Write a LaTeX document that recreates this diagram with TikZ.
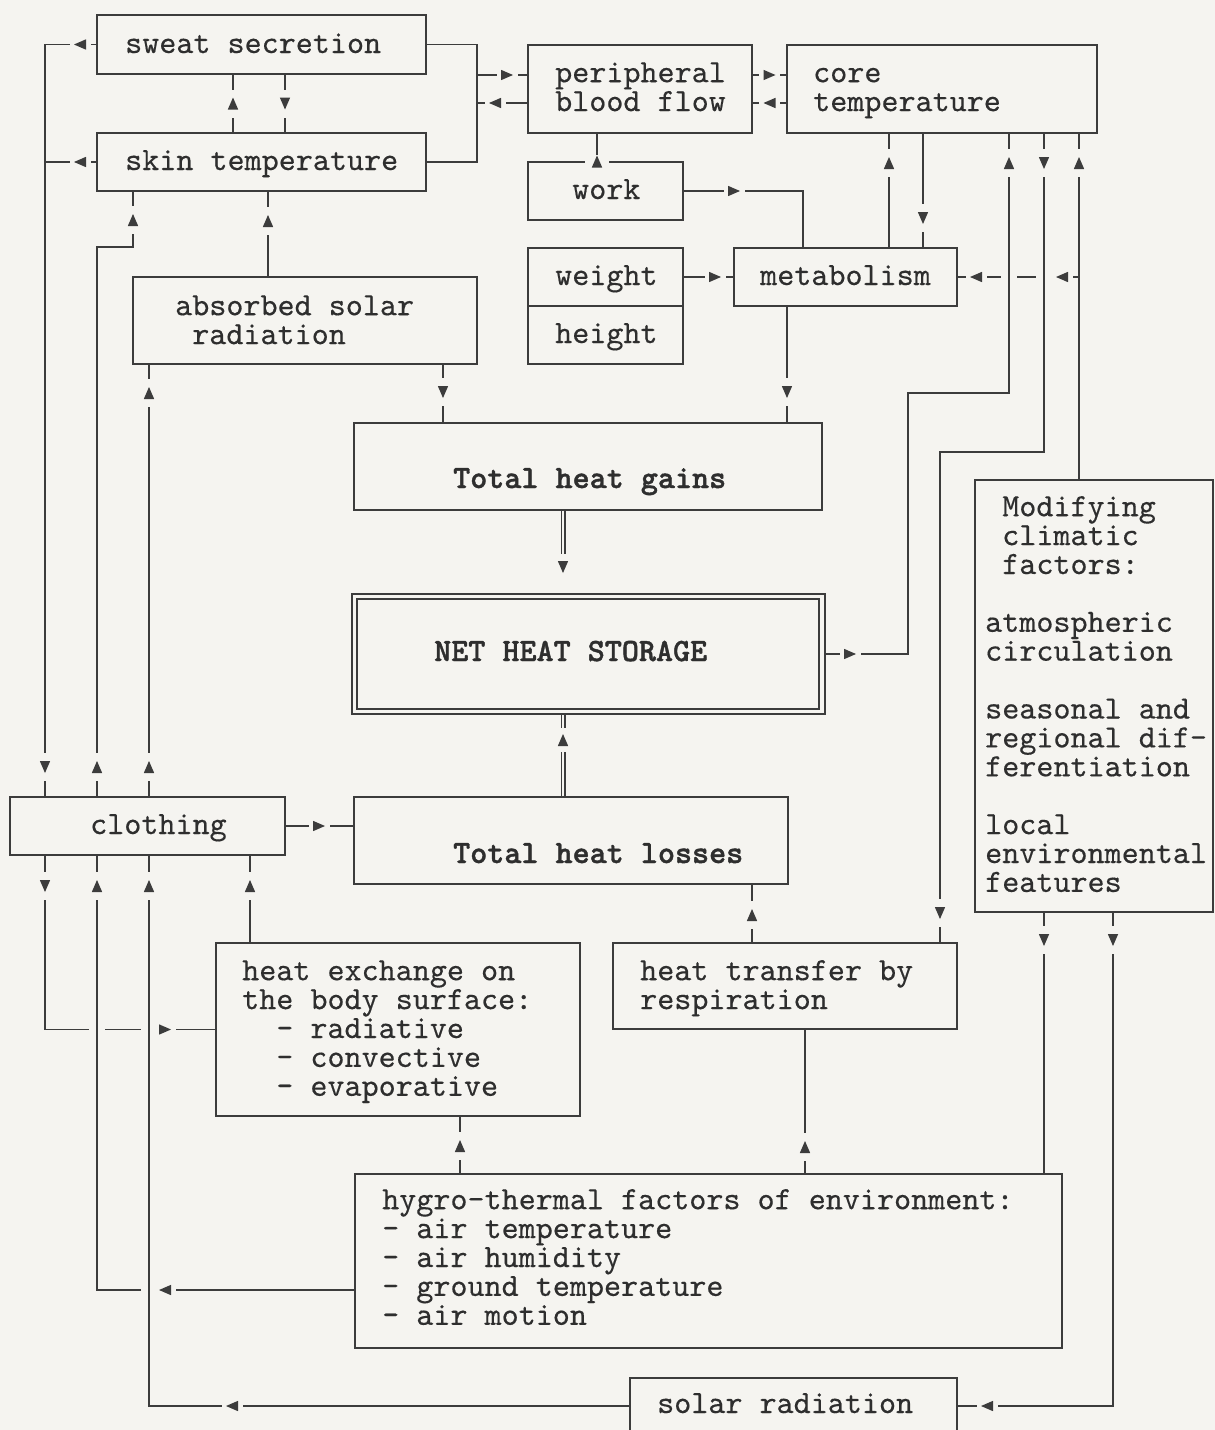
\documentclass[tikz,border=0pt]{standalone}
\usepackage{fontspec}
\usetikzlibrary{decorations.markings}
\newfontfamily\tyfont{lmmono10-regular.otf}[FakeBold=0.35]
\newfontfamily\tybfont{lmmonolt10-bold.otf}[FakeBold=1.2]
\definecolor{paper}{RGB}{245,244,240}
\definecolor{ink}{RGB}{60,60,60}
\definecolor{textc}{RGB}{46,46,46}
\newcommand\tfont{\fontsize{32.5pt}{28.9pt}\selectfont\tyfont}
\newcommand\tbfont{\fontsize{32.5pt}{28.9pt}\selectfont\tybfont}
\newcommand\amark[2]{\fill[paper] (-#1,-#2) rectangle (#1,#2); \fill[ink] (6,0) -- (-6,5.2) -- (-6,-5.2) -- cycle;}
\newcommand\hop[2]{\fill[paper] ({#1-8},{#2-3}) rectangle ({#1+8},{#2+3});}
\newcommand\bx[5]{\node[boxst, minimum width={(#4-#2)*1pt}, minimum height={(#5-#3)*1pt}] (#1) at ({(#2+#4)/2},{(#3+#5)/2}) {};}
\tikzset{
 boxst/.style={draw=ink, line width=1.4pt, inner sep=0pt, outer sep=0pt},
 txt/.style={font=\tfont, text=textc, inner sep=0pt, anchor=base west},
 txtm/.style={font=\tfont, text=textc, inner sep=0pt, anchor=north west, align=left},
 conn/.style={draw=ink, line width=1.4pt},
 dbl/.style={draw=ink, line width=1.2pt, double=paper, double distance=2.6pt, shorten <=0.7pt, shorten >=0.7pt},
 ma/.style={postaction={decorate,decoration={markings,mark=at position #1 with {\amark{10.5}{3.2}}}}},
 mv/.style={postaction={decorate,decoration={markings,mark=at position #1 with {\amark{14}{3.2}}}}},
 mw/.style={postaction={decorate,decoration={markings,mark=at position #1 with {\amark{6.5}{12}}}}},
 md/.style={postaction={decorate,decoration={markings,mark=at position #1 with {\amark{12}{5}}}}},
 mgap/.style={postaction={decorate,decoration={markings,mark=at position #1 with {\fill[paper] (-13,-5) rectangle (25.5,5); \fill[ink] (6,0) -- (-6,5.2) -- (-6,-5.2) -- cycle;}}}},
}
\begin{document}
\begin{tikzpicture}[x=1pt,y=-1pt]
\useasboundingbox (0,0) rectangle (1215,1430);
\fill[paper] (0,0) rectangle (1215,1430);

% boxes
\bx{sweat}{97}{15}{426}{74}
\bx{skin}{97}{133}{426}{191}
\bx{peri}{528}{45}{752}{133}
\bx{core}{787}{45}{1097}{133}
\bx{work}{528}{162}{683}{220}
\bx{weight}{528}{248}{683}{306}
\bx{hgt}{528}{306}{683}{364}
\bx{metab}{734}{248}{957}{306}
\bx{absorb}{133}{277}{477}{364}
\bx{gains}{354}{423}{822}{510}
\bx{net}{352}{594}{825}{714}
\draw[boxst] ([shift={(5,5)}]net.north west) rectangle ([shift={(-6,-5)}]net.south east);
\bx{modif}{975}{480}{1213}{912}
\bx{cloth}{10}{797}{285}{855}
\bx{losses}{354}{797}{788}{884}
\bx{hx}{216}{943}{580}{1116}
\bx{resp}{613}{943}{957}{1029}
\bx{hygro}{355}{1174}{1062}{1348}
\bx{solar}{630}{1378}{957}{1434}

% texts (multi-line texts: first baseline = y + 20.23)
\node[txt] (t-sweat) at (125,53) {sweat secretion};
\node[txt] (t-skin) at (125,170) {skin temperature};
\node[txtm] (t-peri) at (555,61.77) {\strut peripheral\\blood flow};
\node[txtm] (t-core) at (813,61.77) {\strut core\\temperature};
\node[txt] (t-work) at (572,199) {work};
\node[txt] (t-weight) at (555,285) {weight};
\node[txt] (t-hgt) at (555,343) {height};
\node[txt] (t-metab) at (760,285) {metabolism};
\node[txtm] (t-abs) at (175,294.77) {\strut absorbed solar\\\phantom{x}radiation};
\node[txt, font=\tbfont] (t-gains) at (453,488) {Total heat gains};
\node[txt, font=\tbfont] (t-net) at (434,661) {NET HEAT STORAGE};
\node[txt] (t-cloth) at (90,834) {clothing};
\node[txt, font=\tbfont] (t-losses) at (453,863) {Total heat losses};
\node[txtm] (t-hx) at (242,959.77) {\strut heat exchange on\\the body surface:\\\phantom{xx}- radiative\\\phantom{xx}- convective\\\phantom{xx}- evaporative};
\node[txtm] (t-resp) at (640,959.77) {\strut heat transfer by\\respiration};
\node[txtm] (t-hygro) at (382,1188.77) {\strut hygro-thermal factors of environment:\\- air temperature\\- air humidity\\- ground temperature\\- air motion};
\node[txt] (t-solar) at (657,1413) {solar radiation};
\node[txtm] (t-mod) at (985,495.77) {\strut\phantom{x}Modifying\\\phantom{x}climatic\\\phantom{x}factors:\\[28.9pt]atmospheric\\circulation\\[28.9pt]seasonal and\\regional dif-\\ferentiation\\[28.9pt]local\\environmental\\features};

% left column feedback
\draw[conn, ma=17pt, mv=-30pt] (sweat.west) -| (cloth.north -| 45,0);
\draw[conn, ma=17pt] (skin.west) -- (skin.west -| 45,0);
\draw[conn, mv=0.5] (skin.north -| 233,0) -- (sweat.south -| 233,0);
\draw[conn, mv=0.5] (sweat.south -| 285,0) -- (skin.north -| 285,0);

% top connectors
\coordinate (j1) at (477,75);
\coordinate (j2) at (477,103);
\draw[conn, ma=-21pt] (sweat.east) -| (j1) -- (peri.west |- j1);
\draw[conn] (skin.east) -| (j1);
\draw[conn, ma=33pt] (peri.west |- j2) -- (j2);
\draw[conn, ma=0.5] (peri.east |- j1) -- (core.west |- j1);
\draw[conn, ma=0.5] (core.west |- j2) -- (peri.east |- j2);
\draw[conn, mw=0.5pt] (work.north -| 597,0) -- (peri.south -| 597,0);
\draw[conn, ma=51pt] (work.east) -| (metab.north -| 803,0);
\draw[conn, ma=32pt] (weight.east) -- (metab.west);
\draw[conn, mv=-30pt] (metab.north -| 889,0) -- (core.south -| 889,0);
\draw[conn, mv=-30pt] (core.south -| 923,0) -- (metab.north -| 923,0);

% absorbed radiation and gains
\draw[conn, mv=-30pt] (absorb.north -| 268,0) -- (skin.south -| 268,0);
\draw[conn, mv=30pt, mv=-29pt] (cloth.north -| 97,0) |- (133,247) -- (skin.south -| 133,0);
\draw[conn, mv=30pt, mv=-29pt] (cloth.north -| 149,0) -- (absorb.south -| 149,0);
\draw[conn, mv=-31pt] (absorb.south -| 443,0) -- (gains.north -| 443,0);
\draw[conn, mv=-31pt] (metab.south -| 787,0) -- (gains.north -| 787,0);

% net heat storage
\draw[dbl, mgap=-27pt] (gains.south -| 563,0) -- (net.north -| 563,0);
\draw[dbl, md=-26pt] (losses.north -| 563,0) -- (net.south -| 563,0);

% clothing and losses
\draw[conn, ma=34pt] (cloth.east) -- (losses.west |- cloth.east);
\draw[conn, mv=-31pt] (resp.north -| 752,0) -- (losses.south -| 752,0);
\draw[conn, mv=-31pt] (hx.north -| 250,0) -- (cloth.south -| 250,0);

% crossing lines, lower left
\draw[conn, mv=31pt, ma=-51pt] (cloth.south -| 45,0) |- (hx.west);
\hop{97}{1029.5}
\hop{149}{1029.5}
\draw[conn, ma=190pt, mv=-31pt] (hygro.west |- 0,1290) -| (cloth.south -| 97,0);
\hop{149}{1290}
\draw[conn, ma=398pt, mv=-31pt] (solar.west) -| (cloth.south -| 149,0);

% hygro-thermal upward
\draw[conn, mv=-30pt] (hygro.north -| 460,0) -- (hx.south -| 460,0);
\draw[conn, mv=27pt] (hygro.north -| 805,0) -- (resp.south -| 805,0);

% modifying factors
\draw[conn, mv=28pt] (modif.south -| 1044,0) -- (hygro.north -| 1044,0);
\draw[conn, mv=28pt, ma=-30pt] (modif.south -| 1113,0) |- (solar.east);
\draw[conn, mv=-30pt] (modif.north -| 1079,0) -- (core.south -| 1079,0);
\draw[conn, ma=17pt, ma=-19pt] (metab.east -| 1079,0) -- (metab.east);
\hop{1009}{277}
\hop{1044}{277}
\draw[conn, ma=25pt, mv=-30pt] (net.east) -- (net.east -| 908,0) |- (1009,393) -- (core.south -| 1009,0);
\draw[conn, mv=30pt, mv=-30pt] (core.south -| 1044,0) |- (940,452) -- (resp.north -| 940,0);
\end{tikzpicture}
\end{document}
